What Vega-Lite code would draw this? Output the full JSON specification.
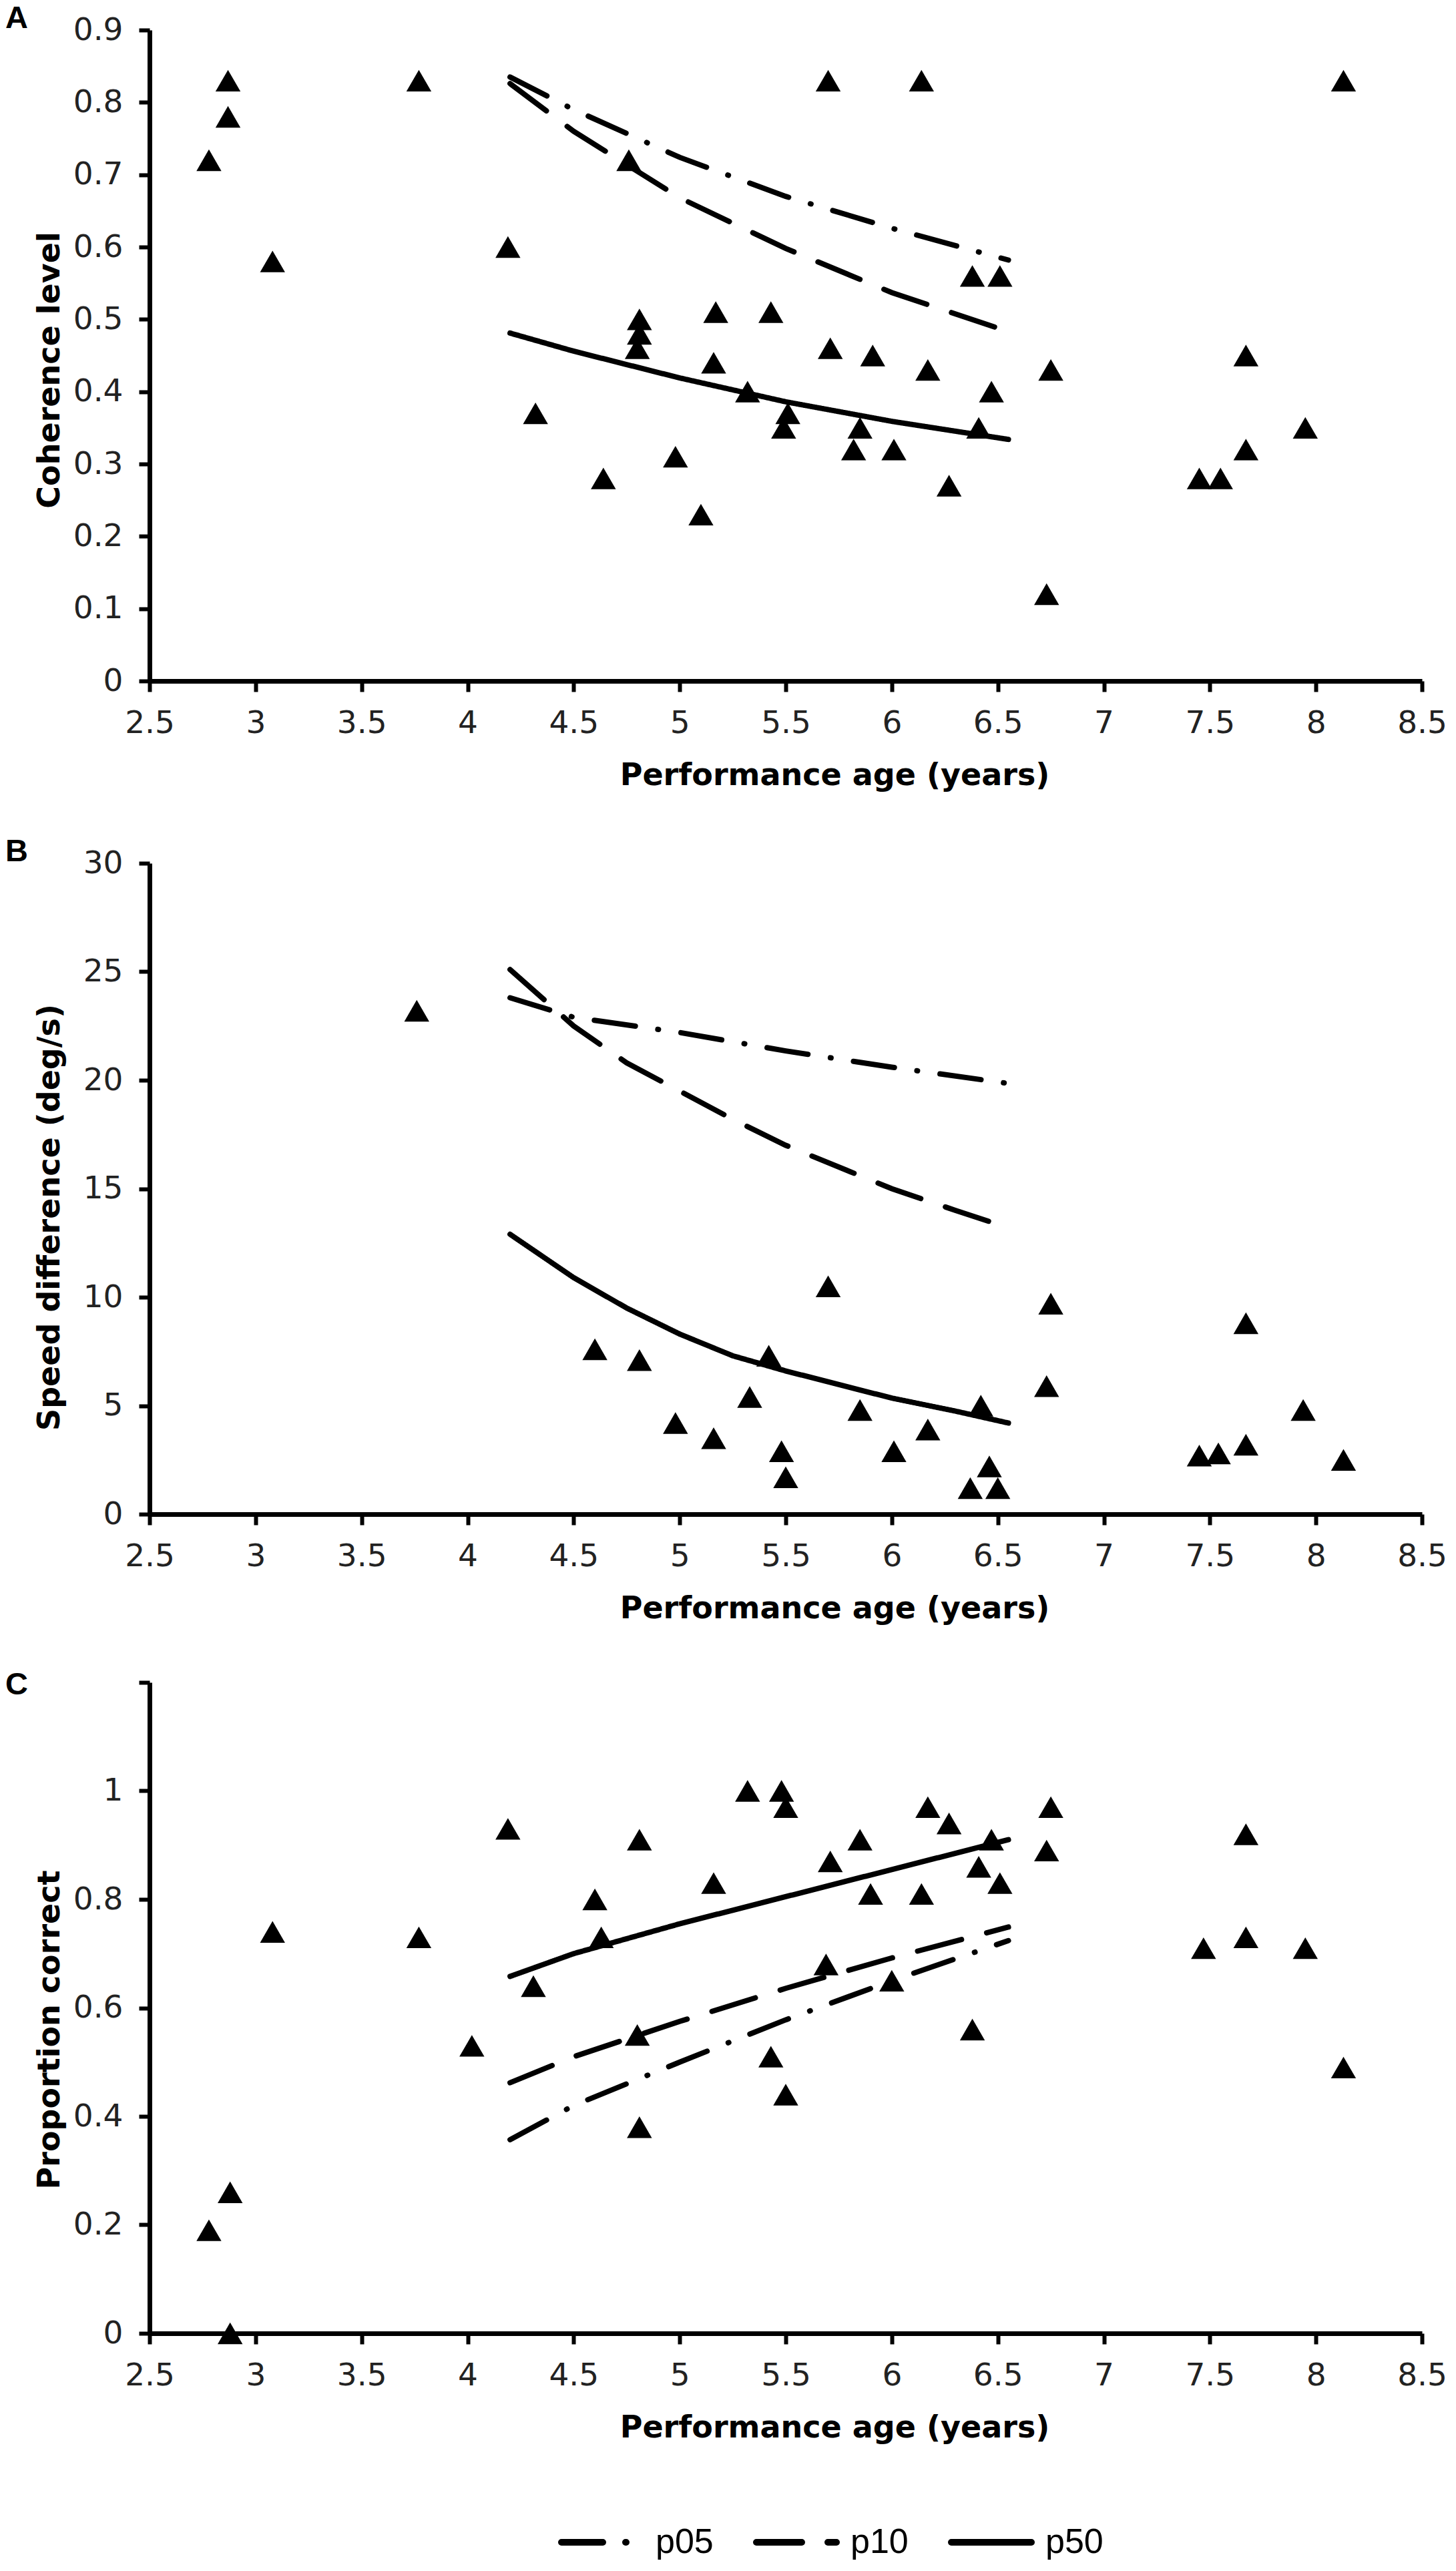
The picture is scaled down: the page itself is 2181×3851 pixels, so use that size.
{
  "$schema": "https://vega.github.io/schema/vega-lite/v6.json",
  "background": "white",
  "padding": {"left": 8, "top": 4, "right": 0, "bottom": 0},
  "spacing": 68,
  "config": {
    "view": {"stroke": null},
    "axis": {
      "grid": false,
      "domainColor": "black",
      "domainWidth": 7,
      "tickColor": "black",
      "tickWidth": 6,
      "tickSize": 16,
      "labelFont": "DejaVu Sans",
      "labelFontSize": 47,
      "labelColor": "#222222",
      "labelPadding": 24,
      "titleFont": "DejaVu Sans",
      "titleFontSize": 46,
      "titleFontWeight": "bold",
      "titleColor": "black"
    },
    "axisX": {"titleX": 1026, "titleY": 141, "titleBaseline": "middle", "labelFlush": false},
    "axisY": {"titleX": -150, "titleBaseline": "middle"},
    "title": {"font": "Liberation Sans", "fontSize": 47, "fontWeight": "bold", "anchor": "start", "frame": "group", "dx": -216, "color": "black", "offset": -31}
  },
  "datasets": {
    "pointsA": [
      {"age": 2.78, "value": 0.72}, {"age": 2.87, "value": 0.83}, {"age": 2.87, "value": 0.78},
      {"age": 3.08, "value": 0.58}, {"age": 3.77, "value": 0.83}, {"age": 4.19, "value": 0.60},
      {"age": 4.32, "value": 0.37}, {"age": 4.64, "value": 0.28}, {"age": 4.76, "value": 0.72},
      {"age": 4.81, "value": 0.50}, {"age": 4.81, "value": 0.48}, {"age": 4.80, "value": 0.46},
      {"age": 4.98, "value": 0.31}, {"age": 5.10, "value": 0.23}, {"age": 5.17, "value": 0.51},
      {"age": 5.16, "value": 0.44}, {"age": 5.32, "value": 0.40}, {"age": 5.43, "value": 0.51},
      {"age": 5.49, "value": 0.35}, {"age": 5.51, "value": 0.37}, {"age": 5.70, "value": 0.83},
      {"age": 5.71, "value": 0.46}, {"age": 5.82, "value": 0.32}, {"age": 5.85, "value": 0.35},
      {"age": 5.91, "value": 0.45}, {"age": 6.01, "value": 0.32}, {"age": 6.14, "value": 0.83},
      {"age": 6.17, "value": 0.43}, {"age": 6.27, "value": 0.27}, {"age": 6.38, "value": 0.56},
      {"age": 6.41, "value": 0.35}, {"age": 6.47, "value": 0.40}, {"age": 6.51, "value": 0.56},
      {"age": 6.73, "value": 0.12}, {"age": 6.75, "value": 0.43}, {"age": 7.45, "value": 0.28},
      {"age": 7.55, "value": 0.28}, {"age": 7.67, "value": 0.45}, {"age": 7.67, "value": 0.32},
      {"age": 7.95, "value": 0.35}, {"age": 8.13, "value": 0.83}
    ],
    "linesA": [
      {"series": "p05", "age": 4.2, "value": 0.835}, {"series": "p05", "age": 4.5, "value": 0.790},
      {"series": "p05", "age": 5.0, "value": 0.724}, {"series": "p05", "age": 5.5, "value": 0.670},
      {"series": "p05", "age": 6.0, "value": 0.626}, {"series": "p05", "age": 6.55, "value": 0.582},
      {"series": "p10", "age": 4.2, "value": 0.826}, {"series": "p10", "age": 4.5, "value": 0.760},
      {"series": "p10", "age": 5.0, "value": 0.668}, {"series": "p10", "age": 5.5, "value": 0.598},
      {"series": "p10", "age": 6.0, "value": 0.537}, {"series": "p10", "age": 6.55, "value": 0.483},
      {"series": "p50", "age": 4.2, "value": 0.481}, {"series": "p50", "age": 4.5, "value": 0.456},
      {"series": "p50", "age": 5.0, "value": 0.419}, {"series": "p50", "age": 5.5, "value": 0.386},
      {"series": "p50", "age": 6.0, "value": 0.359}, {"series": "p50", "age": 6.55, "value": 0.334}
    ],
    "pointsB": [
      {"age": 3.76, "value": 23.2}, {"age": 4.60, "value": 7.6}, {"age": 4.81, "value": 7.1},
      {"age": 4.98, "value": 4.2}, {"age": 5.16, "value": 3.5}, {"age": 5.33, "value": 5.4},
      {"age": 5.42, "value": 7.3}, {"age": 5.48, "value": 2.9}, {"age": 5.50, "value": 1.7},
      {"age": 5.70, "value": 10.5}, {"age": 5.85, "value": 4.8}, {"age": 6.01, "value": 2.9},
      {"age": 6.17, "value": 3.9}, {"age": 6.37, "value": 1.2}, {"age": 6.42, "value": 5.0},
      {"age": 6.46, "value": 2.2}, {"age": 6.50, "value": 1.2}, {"age": 6.73, "value": 5.9},
      {"age": 6.75, "value": 9.7}, {"age": 7.45, "value": 2.7}, {"age": 7.54, "value": 2.8},
      {"age": 7.67, "value": 8.8}, {"age": 7.67, "value": 3.2}, {"age": 7.94, "value": 4.8},
      {"age": 8.13, "value": 2.5}
    ],
    "linesB": [
      {"series": "p05", "age": 4.2, "value": 23.8}, {"series": "p05", "age": 4.5, "value": 22.9},
      {"series": "p05", "age": 5.0, "value": 22.2}, {"series": "p05", "age": 5.5, "value": 21.35},
      {"series": "p05", "age": 6.0, "value": 20.6}, {"series": "p05", "age": 6.55, "value": 19.85},
      {"series": "p10", "age": 4.2, "value": 25.1}, {"series": "p10", "age": 4.5, "value": 22.5},
      {"series": "p10", "age": 4.75, "value": 20.8}, {"series": "p10", "age": 5.0, "value": 19.5},
      {"series": "p10", "age": 5.25, "value": 18.2}, {"series": "p10", "age": 5.5, "value": 17.0},
      {"series": "p10", "age": 6.0, "value": 15.0}, {"series": "p10", "age": 6.3, "value": 14.0},
      {"series": "p10", "age": 6.55, "value": 13.2},
      {"series": "p50", "age": 4.2, "value": 12.9}, {"series": "p50", "age": 4.5, "value": 10.9},
      {"series": "p50", "age": 4.75, "value": 9.5}, {"series": "p50", "age": 5.0, "value": 8.3},
      {"series": "p50", "age": 5.25, "value": 7.3}, {"series": "p50", "age": 5.5, "value": 6.6},
      {"series": "p50", "age": 6.0, "value": 5.35}, {"series": "p50", "age": 6.3, "value": 4.75},
      {"series": "p50", "age": 6.55, "value": 4.2}
    ],
    "pointsC": [
      {"age": 2.78, "value": 0.19}, {"age": 2.88, "value": 0.26}, {"age": 2.88, "value": 0.0},
      {"age": 3.08, "value": 0.74}, {"age": 3.77, "value": 0.73}, {"age": 4.02, "value": 0.53},
      {"age": 4.19, "value": 0.93}, {"age": 4.31, "value": 0.64}, {"age": 4.60, "value": 0.80},
      {"age": 4.63, "value": 0.73}, {"age": 4.81, "value": 0.91}, {"age": 4.80, "value": 0.55},
      {"age": 4.81, "value": 0.38}, {"age": 5.16, "value": 0.83}, {"age": 5.32, "value": 1.0},
      {"age": 5.48, "value": 1.0}, {"age": 5.50, "value": 0.97}, {"age": 5.43, "value": 0.51},
      {"age": 5.50, "value": 0.44}, {"age": 5.69, "value": 0.68}, {"age": 5.71, "value": 0.87},
      {"age": 5.85, "value": 0.91}, {"age": 5.90, "value": 0.81}, {"age": 6.00, "value": 0.65},
      {"age": 6.14, "value": 0.81}, {"age": 6.17, "value": 0.97}, {"age": 6.27, "value": 0.94},
      {"age": 6.38, "value": 0.56}, {"age": 6.41, "value": 0.86}, {"age": 6.47, "value": 0.91},
      {"age": 6.51, "value": 0.83}, {"age": 6.73, "value": 0.89}, {"age": 6.75, "value": 0.97},
      {"age": 7.47, "value": 0.71}, {"age": 7.67, "value": 0.92}, {"age": 7.67, "value": 0.73},
      {"age": 7.95, "value": 0.71}, {"age": 8.13, "value": 0.49}
    ],
    "linesC": [
      {"series": "p05", "age": 4.2, "value": 0.357}, {"series": "p05", "age": 4.5, "value": 0.42},
      {"series": "p05", "age": 5.0, "value": 0.50}, {"series": "p05", "age": 5.5, "value": 0.578},
      {"series": "p05", "age": 6.0, "value": 0.65}, {"series": "p05", "age": 6.55, "value": 0.724},
      {"series": "p10", "age": 4.2, "value": 0.462}, {"series": "p10", "age": 4.5, "value": 0.51},
      {"series": "p10", "age": 5.0, "value": 0.575}, {"series": "p10", "age": 5.5, "value": 0.636},
      {"series": "p10", "age": 6.0, "value": 0.692}, {"series": "p10", "age": 6.55, "value": 0.749},
      {"series": "p50", "age": 4.2, "value": 0.658}, {"series": "p50", "age": 4.5, "value": 0.70},
      {"series": "p50", "age": 5.0, "value": 0.755}, {"series": "p50", "age": 5.5, "value": 0.805},
      {"series": "p50", "age": 6.0, "value": 0.855}, {"series": "p50", "age": 6.55, "value": 0.91}
    ]
  },
  "vconcat": [
    {
      "title": {"text": "A"},
      "width": 1906,
      "height": 975,
      "layer": [
        {
          "data": {"name": "linesA"},
          "mark": {"type": "line", "color": "black", "strokeWidth": 8, "strokeCap": "round"},
          "encoding": {
            "x": {"field": "age", "type": "quantitative", "scale": {"domain": [2.5, 8.5], "nice": false, "zero": false},
              "axis": {"title": "Performance age (years)", "values": [2.5, 3, 3.5, 4, 4.5, 5, 5.5, 6, 6.5, 7, 7.5, 8, 8.5], "format": "~g"}},
            "y": {"field": "value", "type": "quantitative", "scale": {"domain": [0, 0.9], "nice": false},
              "axis": {"title": "Coherence level", "titleY": 509, "values": [0, 0.1, 0.2, 0.3, 0.4, 0.5, 0.6, 0.7, 0.8, 0.9], "format": "~g"}},
            "strokeDash": {"field": "series", "type": "nominal",
              "scale": {"domain": ["p05", "p10", "p50"], "range": [[62, 34, 1, 34], [68, 39], [1, 0]]},
              "legend": {"orient": "none", "legendX": 612, "legendY": 3698, "direction": "horizontal", "title": null,
                "labelFont": "Liberation Sans", "labelFontSize": 52, "labelColor": "black",
                "symbolType": "stroke", "symbolStrokeWidth": 10, "symbolSize": 14400, "symbolStrokeColor": "black",
                "columnPadding": 44, "labelOffset": 16,
                "encode": {"symbols": {"update": {"strokeCap": {"value": "round"}}}}}}
          }
        },
        {
          "data": {"name": "pointsA"},
          "mark": {"type": "point", "shape": "triangle-up", "filled": true, "color": "black", "opacity": 1, "size": 1400},
          "encoding": {
            "x": {"field": "age", "type": "quantitative"},
            "y": {"field": "value", "type": "quantitative"}
          }
        }
      ]
    },
    {
      "title": {"text": "B"},
      "width": 1906,
      "height": 975,
      "layer": [
        {
          "data": {"name": "linesB"},
          "mark": {"type": "line", "color": "black", "strokeWidth": 8, "strokeCap": "round"},
          "encoding": {
            "x": {"field": "age", "type": "quantitative", "scale": {"domain": [2.5, 8.5], "nice": false, "zero": false},
              "axis": {"title": "Performance age (years)", "values": [2.5, 3, 3.5, 4, 4.5, 5, 5.5, 6, 6.5, 7, 7.5, 8, 8.5], "format": "~g"}},
            "y": {"field": "value", "type": "quantitative", "scale": {"domain": [0, 30], "nice": false},
              "axis": {"title": "Speed difference (deg/s)", "titleY": 530, "values": [0, 5, 10, 15, 20, 25, 30]}},
            "strokeDash": {"field": "series", "type": "nominal",
              "scale": {"domain": ["p05", "p10", "p50"], "range": [[62, 34, 1, 34], [68, 39], [1, 0]]}}
          }
        },
        {
          "data": {"name": "pointsB"},
          "mark": {"type": "point", "shape": "triangle-up", "filled": true, "color": "black", "opacity": 1, "size": 1400},
          "encoding": {
            "x": {"field": "age", "type": "quantitative"},
            "y": {"field": "value", "type": "quantitative"}
          }
        }
      ]
    },
    {
      "title": {"text": "C"},
      "width": 1906,
      "height": 975,
      "layer": [
        {
          "data": {"name": "linesC"},
          "mark": {"type": "line", "color": "black", "strokeWidth": 8, "strokeCap": "round"},
          "encoding": {
            "x": {"field": "age", "type": "quantitative", "scale": {"domain": [2.5, 8.5], "nice": false, "zero": false},
              "axis": {"title": "Performance age (years)", "values": [2.5, 3, 3.5, 4, 4.5, 5, 5.5, 6, 6.5, 7, 7.5, 8, 8.5], "format": "~g"}},
            "y": {"field": "value", "type": "quantitative", "scale": {"domain": [0, 1.2], "nice": false},
              "axis": {"title": "Proportion correct", "titleY": 520, "values": [0, 0.2, 0.4, 0.6, 0.8, 1, 1.2], "format": "~g",
                "labelExpr": "datum.value > 1.1 ? '' : datum.label"}},
            "strokeDash": {"field": "series", "type": "nominal",
              "scale": {"domain": ["p05", "p10", "p50"], "range": [[62, 34, 1, 34], [68, 39], [1, 0]]}}
          }
        },
        {
          "data": {"name": "pointsC"},
          "mark": {"type": "point", "shape": "triangle-up", "filled": true, "color": "black", "opacity": 1, "size": 1400},
          "encoding": {
            "x": {"field": "age", "type": "quantitative"},
            "y": {"field": "value", "type": "quantitative"}
          }
        }
      ]
    }
  ]
}
